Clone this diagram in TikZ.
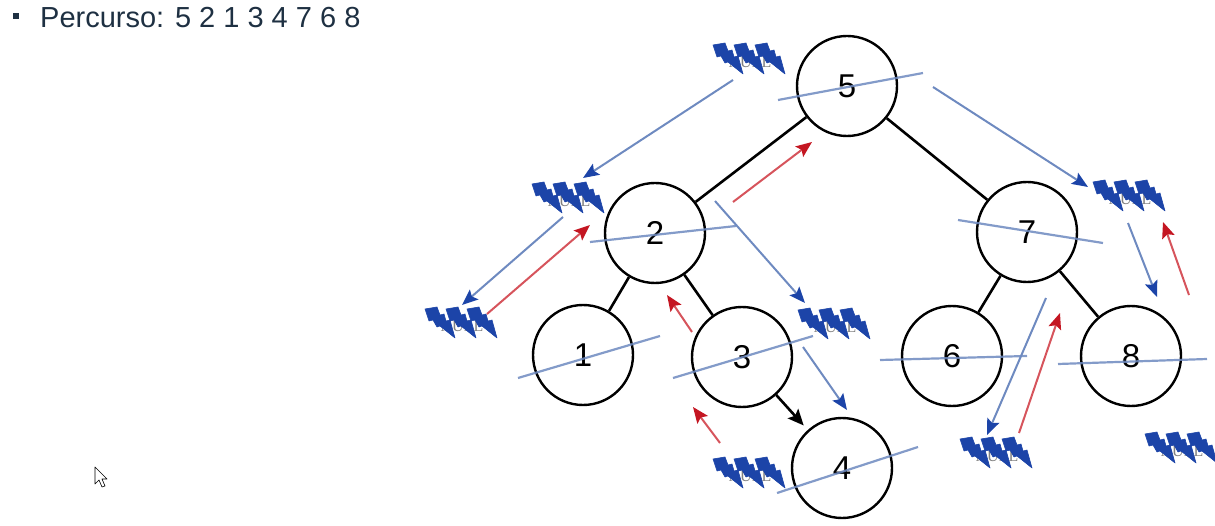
\documentclass[tikz,border=0pt]{standalone}
\usepackage{fontspec}
\setmainfont{Liberation Sans}
\newfontfamily\markfont{Liberation Serif}
\usetikzlibrary{arrows.meta}
\definecolor{lineblue}{RGB}{110,138,192}
\definecolor{headblue}{RGB}{28,68,168}
\definecolor{linered}{RGB}{214,84,92}
\definecolor{headred}{RGB}{196,22,34}
\definecolor{textnavy}{RGB}{30,48,66}
\tikzset{
	treenode/.style={circle,draw,line width=2.4pt,fill=white,minimum size=100pt,inner sep=0pt,font=\fontsize{33}{33}\selectfont},
	edge/.style={line width=2.6pt},
	strike/.style={lineblue,line width=2.2pt,opacity=.85},
	down/.style={lineblue,line width=2pt,-{Stealth[color=headblue,length=16pt,width=13pt,inset=3pt]}},
	up/.style={linered,line width=2pt,-{Stealth[color=headred,length=16pt,width=13pt,inset=3pt]}},
	bolt/.style={fill=headblue,draw=headblue,line width=.6pt,line join=round},
	nullmark/.pic={
		\node[gray,font=\markfont\fontsize{16}{16}\selectfont,inner sep=0pt] (-t) at (37,19) {NULL};
		\foreach \d in {0,21,42}
			\draw[bolt,xshift=\d] (0,2) -- (12,0) -- (15,8) -- (19,7) -- (21,14) -- (25,13) -- (30,31) -- (15,19) -- (12,20) -- (8,13) -- (4,14) -- cycle;
	}
}
\begin{document}
\begin{tikzpicture}[x=1pt,y=-1pt]
	\useasboundingbox (0,0) rectangle (1215,526);
	\fill[textnavy] (13,13) rectangle (19,19);
	\node[anchor=base west,text=textnavy,font=\fontsize{29}{29}\selectfont,inner sep=0pt] (title) at (40,28) {Percurso: 5 2 1 3 4 7 6 8};
	\draw[line width=.6pt,fill=white,line join=round] (95,467) -- (95,484) -- (99,480) -- (102,487) -- (105,486) -- (102,479) -- (107,479) -- cycle;
	\begin{scope}
		\node[treenode] (v5) at (847,86) {5};
		\node[treenode] (v2) at (655,233) {2};
		\node[treenode] (v7) at (1027,232) {7};
		\node[treenode] (v1) at (583,355) {1};
		\node[treenode] (v3) at (742,357) {3};
		\node[treenode] (v6) at (952,356) {6};
		\node[treenode] (v8) at (1131,356) {8};
		\node[treenode] (v4) at (842,468) {4};
		\draw[edge] (v5) -- (v2);
		\draw[edge] (v5) -- (v7);
		\draw[edge] (v2) -- (v1);
		\draw[edge] (v2) -- (v3);
		\draw[edge] (v7) -- (v6);
		\draw[edge] (v7) -- (v8);
		\draw[edge,-{Stealth[length=16pt,width=14pt,inset=3pt]},shorten >=6pt] (v3) -- (v4);
	\end{scope}
	\begin{scope}
		\draw[strike] ([shift={(-69,14)}]v5.center) -- ([shift={(76,-13)}]v5.center);
		\draw[strike] ([shift={(-65,9)}]v2.center) -- ([shift={(81,-7)}]v2.center);
		\draw[strike] ([shift={(-69,-12)}]v7.center) -- ([shift={(76,11)}]v7.center);
		\draw[strike] ([shift={(-65,23)}]v1.center) -- ([shift={(77,-19)}]v1.center);
		\draw[strike] ([shift={(-69,21)}]v3.center) -- ([shift={(71,-21)}]v3.center);
		\draw[strike] ([shift={(-72,4)}]v6.center) -- ([shift={(75,0)}]v6.center);
		\draw[strike] ([shift={(-73,8)}]v8.center) -- ([shift={(76,3)}]v8.center);
		\draw[strike] ([shift={(-65,25)}]v4.center) -- ([shift={(76,-21)}]v4.center);
	\end{scope}
	\pic (n1) at (713,43) {nullmark};
	\pic (n2) at (532,182) {nullmark};
	\pic (n3) at (425,307) {nullmark};
	\pic (n4) at (798,308) {nullmark};
	\pic (n5) at (713,457) {nullmark};
	\pic (n6) at (1093,180) {nullmark};
	\pic (n7) at (960,437) {nullmark};
	\pic (n8) at (1145,432) {nullmark};
	\coordinate (d1) at (733,80);
	\coordinate (d1e) at (583,178);
	\coordinate (d2) at (933,87);
	\coordinate (d2e) at (1088,187);
	\coordinate (d3) at (563,217);
	\coordinate (d3e) at (462,305);
	\coordinate (d4) at (715,201);
	\coordinate (d4e) at (805,303);
	\coordinate (d5) at (803,347);
	\coordinate (d5e) at (847,410);
	\coordinate (d6) at (1128,223);
	\coordinate (d6e) at (1157,297);
	\coordinate (d7) at (1046,298);
	\coordinate (d7e) at (987,435);
	\coordinate (u1) at (487,314);
	\coordinate (u1e) at (590,225);
	\coordinate (u2) at (733,202);
	\coordinate (u2e) at (812,142);
	\coordinate (u3) at (692,332);
	\coordinate (u3e) at (667,295);
	\coordinate (u4) at (720,443);
	\coordinate (u4e) at (693,407);
	\coordinate (u5) at (1189,295);
	\coordinate (u5e) at (1163,222);
	\coordinate (u6) at (1019,433);
	\coordinate (u6e) at (1060,313);
	\draw[down] (d1) -- (d1e);
	\draw[down] (d2) -- (d2e);
	\draw[down] (d3) -- (d3e);
	\draw[down] (d4) -- (d4e);
	\draw[down] (d5) -- (d5e);
	\draw[down] (d6) -- (d6e);
	\draw[down] (d7) -- (d7e);
	\draw[up] (u1) -- (u1e);
	\draw[up] (u2) -- (u2e);
	\draw[up] (u3) -- (u3e);
	\draw[up] (u4) -- (u4e);
	\draw[up] (u5) -- (u5e);
	\draw[up] (u6) -- (u6e);
\end{tikzpicture}
\end{document}
